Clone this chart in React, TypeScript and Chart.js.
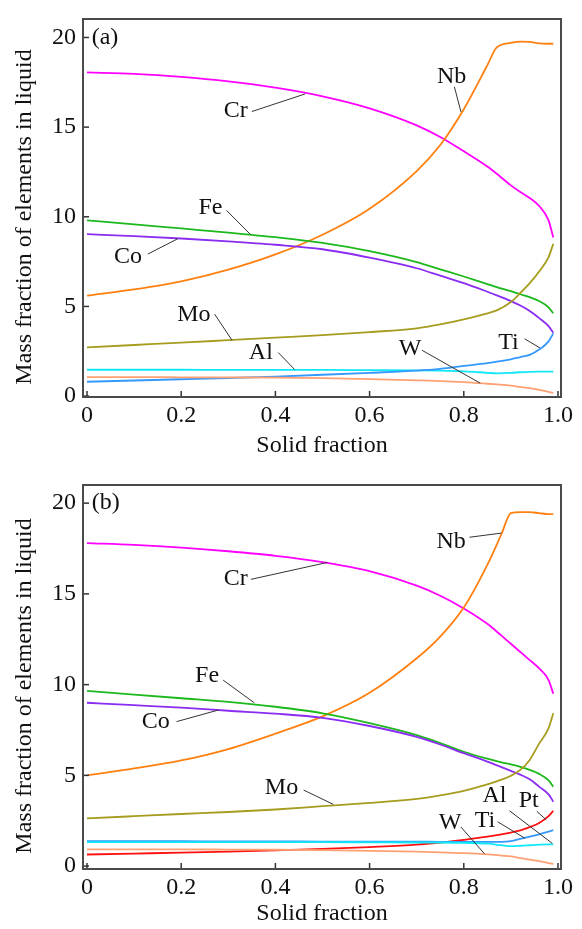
import React, { useEffect, useRef } from 'react';
import { Chart, registerables } from 'chart.js';

Chart.register(...registerables);

// ---------- Data ----------
const X_TICKS = [0, 0.2, 0.4, 0.6, 0.8, 1.0];
const Y_TICKS = [0, 5, 10, 15, 20];

// Panel (a)
const XA = [0, 0.1, 0.2, 0.3, 0.4, 0.5, 0.6, 0.7, 0.75, 0.8, 0.85, 0.87, 0.9, 0.92, 0.94, 0.96, 0.98, 0.99];
const CR_A = [18.05, 17.97, 17.8, 17.55, 17.2, 16.72, 16.05, 15.1, 14.45, 13.65, 12.8, 12.4, 11.75, 11.38, 11.05, 10.6, 9.8, 8.85];
const NB_A = [5.6, 5.95, 6.4, 7.05, 7.9, 9.0, 10.45, 12.55, 14.0, 16.0, 18.45, 19.45, 19.7, 19.77, 19.75, 19.67, 19.65, 19.65];
const FE_A = [9.8, 9.58, 9.35, 9.12, 8.86, 8.54, 8.08, 7.47, 7.07, 6.67, 6.25, 6.08, 5.85, 5.68, 5.52, 5.3, 4.95, 4.62];
const CO_A = [9.03, 8.92, 8.79, 8.63, 8.44, 8.19, 7.72, 7.13, 6.72, 6.3, 5.82, 5.62, 5.3, 5.05, 4.75, 4.35, 3.9, 3.53];
const MO_A = [2.72, 2.85, 2.98, 3.12, 3.26, 3.4, 3.57, 3.78, 4.0, 4.28, 4.62, 4.78, 5.25, 5.75, 6.3, 6.95, 7.75, 8.5];
const AL_A = [1.47, 1.47, 1.47, 1.46, 1.46, 1.46, 1.45, 1.44, 1.42, 1.38, 1.3, 1.27, 1.3, 1.33, 1.35, 1.36, 1.36, 1.36];
const TI_A = [0.8, 0.87, 0.94, 1.01, 1.09, 1.19, 1.3, 1.42, 1.52, 1.68, 1.84, 1.92, 2.05, 2.18, 2.3, 2.6, 3.05, 3.5];
const W_A = [1.06, 1.06, 1.05, 1.04, 1.03, 1.0, 0.95, 0.88, 0.84, 0.78, 0.69, 0.65, 0.58, 0.51, 0.44, 0.35, 0.24, 0.18];

// Panel (b)
const XB = [0, 0.1, 0.2, 0.3, 0.4, 0.5, 0.6, 0.7, 0.75, 0.8, 0.85, 0.88, 0.9, 0.92, 0.94, 0.96, 0.98, 0.99];
const CR_B = [17.8, 17.7, 17.55, 17.35, 17.1, 16.75, 16.25, 15.45, 14.9, 14.2, 13.35, 12.7, 12.25, 11.8, 11.35, 10.9, 10.25, 9.5];
const NB_B = [5.0, 5.38, 5.82, 6.45, 7.3, 8.25, 9.55, 11.45, 12.65, 14.25, 16.6, 18.3, 19.45, 19.5, 19.5, 19.45, 19.4, 19.4];
const FE_B = [9.65, 9.45, 9.25, 9.05, 8.78, 8.42, 7.88, 7.22, 6.78, 6.3, 5.92, 5.72, 5.6, 5.47, 5.3, 5.08, 4.72, 4.38];
const CO_B = [9.0, 8.87, 8.73, 8.56, 8.4, 8.17, 7.72, 7.12, 6.7, 6.22, 5.76, 5.45, 5.25, 5.04, 4.78, 4.38, 3.95, 3.55];
const MO_B = [2.63, 2.75, 2.87, 2.98, 3.12, 3.3, 3.48, 3.7, 3.9, 4.15, 4.5, 4.76, 4.98, 5.3, 5.85, 6.75, 7.6, 8.42];
const AL_B = [1.32, 1.32, 1.32, 1.32, 1.32, 1.32, 1.31, 1.3, 1.3, 1.28, 1.24, 1.15, 1.1, 1.12, 1.15, 1.18, 1.2, 1.2];
const TI_B = [1.37, 1.37, 1.37, 1.36, 1.36, 1.35, 1.35, 1.35, 1.34, 1.34, 1.34, 1.34, 1.38, 1.5, 1.62, 1.75, 1.9, 1.98];
const W_B = [0.92, 0.92, 0.92, 0.91, 0.9, 0.88, 0.84, 0.8, 0.76, 0.72, 0.65, 0.58, 0.53, 0.44, 0.36, 0.27, 0.17, 0.11];
const PT_B = [0.64, 0.69, 0.74, 0.8, 0.87, 0.95, 1.05, 1.18, 1.3, 1.45, 1.62, 1.75, 1.85, 1.97, 2.15, 2.38, 2.75, 3.05];

const COLORS: Record<string, string> = {
  Cr: '#ff00ff',
  Nb: '#ff8010',
  Fe: '#1cb81c',
  Co: '#8a2cf2',
  Mo: '#a69c1e',
  Al: '#10e8f8',
  Ti: '#3399ff',
  W: '#ffa072',
  Pt: '#ff1010',
};

type Ann = { text: string; tx: number; ty: number; line?: [number, number, number, number]; align?: CanvasTextAlign };

const ANN_A: Ann[] = [
  { text: '(a)', tx: 0.01, ty: 20, align: 'left' },
  { text: 'Cr', tx: 0.316, ty: 15.9, line: [0.35, 15.87, 0.463, 16.85] },
  { text: 'Nb', tx: 0.774, ty: 17.8, line: [0.78, 17.25, 0.794, 15.85] },
  { text: 'Fe', tx: 0.262, ty: 10.48, line: [0.296, 10.36, 0.347, 9.02] },
  { text: 'Co', tx: 0.087, ty: 7.79, line: [0.129, 7.92, 0.193, 8.78] },
  { text: 'Mo', tx: 0.227, ty: 4.54, line: [0.271, 4.57, 0.308, 3.11] },
  { text: 'Al', tx: 0.369, ty: 2.43, line: [0.406, 2.43, 0.441, 1.48] },
  { text: 'W', tx: 0.686, ty: 2.62, line: [0.711, 2.56, 0.835, 0.72] },
  { text: 'Ti', tx: 0.895, ty: 2.98, line: [0.929, 3.2, 0.962, 2.68] },
];

const ANN_B: Ann[] = [
  { text: '(b)', tx: 0.01, ty: 20, align: 'left' },
  { text: 'Cr', tx: 0.316, ty: 15.86, line: [0.348, 15.8, 0.51, 16.73] },
  { text: 'Nb', tx: 0.773, ty: 17.88, line: [0.812, 18.12, 0.88, 18.35] },
  { text: 'Fe', tx: 0.255, ty: 10.47, line: [0.289, 10.25, 0.355, 9.0] },
  { text: 'Co', tx: 0.146, ty: 7.96, line: [0.19, 7.96, 0.279, 8.6] },
  { text: 'Mo', tx: 0.413, ty: 4.32, line: [0.46, 4.19, 0.523, 3.4] },
  { text: 'W', tx: 0.771, ty: 2.4, line: [0.794, 2.15, 0.844, 0.68] },
  { text: 'Ti', tx: 0.845, ty: 2.49, line: [0.872, 2.44, 0.93, 1.53] },
  { text: 'Al', tx: 0.865, ty: 3.87, line: [0.897, 3.05, 0.988, 1.25] },
  { text: 'Pt', tx: 0.938, ty: 3.6, line: [0.955, 3.02, 0.975, 2.55] },
];

const FONT = '"Liberation Serif", "Times New Roman", serif';

const decorPlugin = {
  id: 'decor',
  afterDatasetsDraw(chart: any, _args: any, opts: any) {
    const { ctx, chartArea: ca, scales } = chart;
    const xs = scales.x;
    const ys = scales.y;
    ctx.save();
    ctx.strokeStyle = '#333';
    ctx.lineWidth = 1.5;
    X_TICKS.forEach((v) => {
      const px = xs.getPixelForValue(v);
      ctx.beginPath();
      ctx.moveTo(px, ca.bottom);
      ctx.lineTo(px, ca.bottom - 6);
      ctx.stroke();
    });
    Y_TICKS.forEach((v) => {
      const py = ys.getPixelForValue(v);
      ctx.beginPath();
      ctx.moveTo(ca.left, py);
      ctx.lineTo(ca.left + 6, py);
      ctx.stroke();
    });
    ctx.lineWidth = 2;
    ctx.strokeStyle = '#4a4a4a';
    ctx.strokeRect(ca.left, ca.top, ca.right - ca.left, ca.bottom - ca.top);

    const items: Ann[] = (opts && opts.items) || [];
    ctx.font = `24px ${FONT}`;
    ctx.textBaseline = 'middle';
    items.forEach((a) => {
      if (a.line) {
        ctx.strokeStyle = '#333';
        ctx.lineWidth = 1;
        ctx.beginPath();
        ctx.moveTo(xs.getPixelForValue(a.line[0]), ys.getPixelForValue(a.line[1]));
        ctx.lineTo(xs.getPixelForValue(a.line[2]), ys.getPixelForValue(a.line[3]));
        ctx.stroke();
      }
      ctx.fillStyle = '#111';
      ctx.textAlign = a.align || 'center';
      ctx.fillText(a.text, xs.getPixelForValue(a.tx), ys.getPixelForValue(a.ty));
    });
    ctx.restore();
  },
};

type PanelProps = {
  xs: number[];
  series: { name: string; values: number[] }[];
  ann: Ann[];
  height: number;
  top: number;
  bottom: number;
  yMin: number;
  yMax: number;
  xTitlePad: number;
};

function Panel(p: PanelProps) {
  const ref = useRef<HTMLCanvasElement | null>(null);
  useEffect(() => {
    if (!ref.current) return;
    const chart = new Chart(ref.current, {
      type: 'line',
      data: {
        datasets: p.series.map((s) => ({
          label: s.name,
          data: p.xs.map((x, i) => ({ x, y: s.values[i] })),
          borderColor: COLORS[s.name],
          backgroundColor: COLORS[s.name],
          borderWidth: 1.8,
          pointRadius: 0,
          cubicInterpolationMode: 'monotone' as const,
          fill: false,
        })),
      },
      options: {
        animation: false,
        responsive: false,
        maintainAspectRatio: false,
        layout: { padding: { left: 0, right: 21, top: p.top, bottom: 0 } },
        plugins: {
          legend: { display: false },
          tooltip: { enabled: false },
          decor: { items: p.ann },
        } as any,
        scales: {
          x: {
            type: 'linear',
            min: -0.0085,
            max: 1.0064,
            afterBuildTicks: (s: any) => {
              s.ticks = X_TICKS.map((v) => ({ value: v }));
            },
            afterFit: (s: any) => {
              s.height = p.height - p.bottom;
            },
            grid: { display: false, drawTicks: false },
            border: { display: false },
            ticks: {
              autoSkip: false,
              maxRotation: 0,
              padding: 7,
              color: '#111',
              font: { family: FONT, size: 24, lineHeight: 1 },
              callback: (v: any) => (Number(v) === 0 ? '0' : Number(v).toFixed(1)),
            },
            title: {
              display: true,
              text: 'Solid fraction',
              color: '#111',
              font: { family: FONT, size: 24 },
              padding: { top: 0, bottom: p.xTitlePad },
            },
          },
          y: {
            type: 'linear',
            min: p.yMin,
            max: p.yMax,
            afterBuildTicks: (s: any) => {
              s.ticks = Y_TICKS.map((v) => ({ value: v }));
            },
            afterFit: (s: any) => {
              s.width = 83;
            },
            grid: { display: false, drawTicks: false },
            border: { display: false },
            ticks: {
              padding: 7,
              color: '#111',
              font: { family: FONT, size: 24, lineHeight: 1 },
              callback: (v: any) => String(v),
            },
            title: {
              display: true,
              text: 'Mass fraction of elements in liquid   ',
              color: '#111',
              font: { family: FONT, size: 24 },
              padding: { top: 10.5, bottom: 0 },
            },
          },
        },
      },
      plugins: [decorPlugin],
    } as any);
    return () => chart.destroy();
  }, []);
  return <canvas ref={ref} width={582} height={p.height} style={{ display: 'block', width: 582, height: p.height }} />;
}

export default function App() {
  const seriesA = [
    { name: 'W', values: W_A },
    { name: 'Ti', values: TI_A },
    { name: 'Al', values: AL_A },
    { name: 'Mo', values: MO_A },
    { name: 'Co', values: CO_A },
    { name: 'Fe', values: FE_A },
    { name: 'Nb', values: NB_A },
    { name: 'Cr', values: CR_A },
  ];
  const seriesB = [
    { name: 'W', values: W_B },
    { name: 'Al', values: AL_B },
    { name: 'Ti', values: TI_B },
    { name: 'Pt', values: PT_B },
    { name: 'Mo', values: MO_B },
    { name: 'Co', values: CO_B },
    { name: 'Fe', values: FE_B },
    { name: 'Nb', values: NB_B },
    { name: 'Cr', values: CR_B },
  ];
  return (
    <div style={{ position: 'absolute', left: 0, top: 0, width: 582, height: 929, background: '#fff' }}>
      <Panel xs={XA} series={seriesA} ann={ANN_A} height={465} top={13} bottom={397} yMin={-0.05} yMax={21.03} xTitlePad={4.6} />
      <Panel xs={XB} series={seriesB} ann={ANN_B} height={464} top={20} bottom={404} yMin={-0.16} yMax={21.0} xTitlePad={1.3} />
    </div>
  );
}
